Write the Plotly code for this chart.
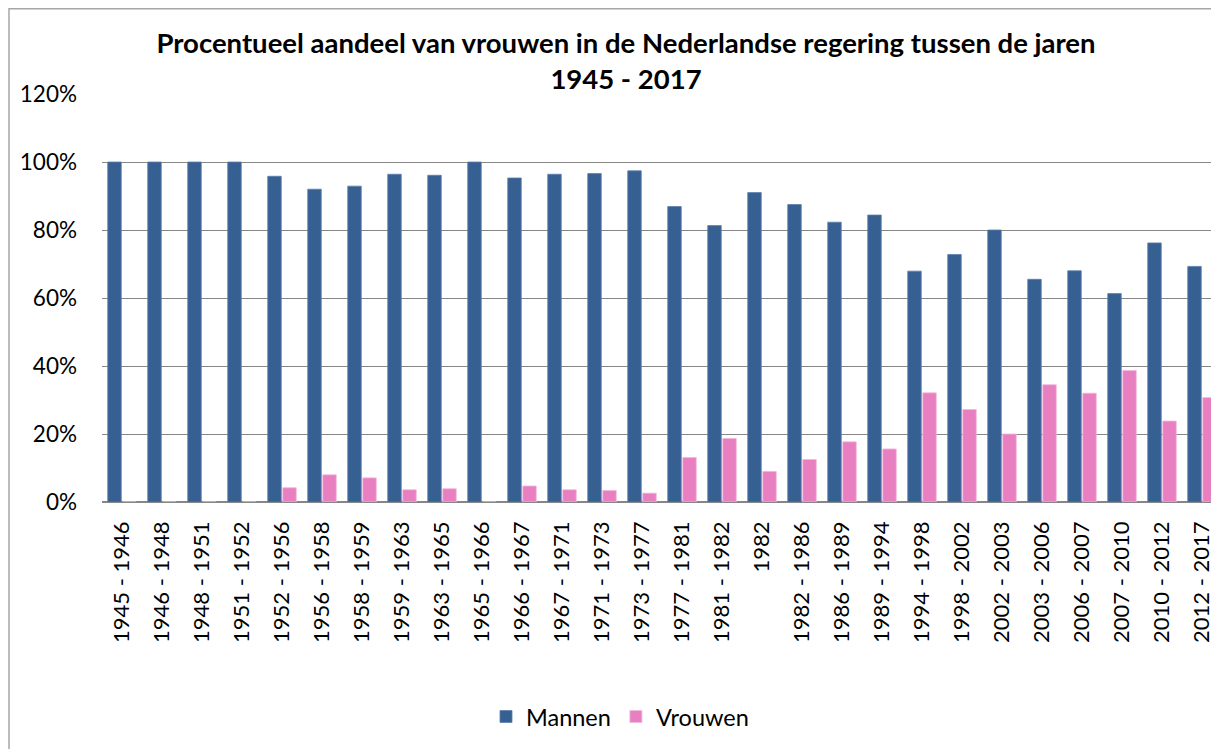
import plotly.graph_objects as go

categories = ["1945 - 1946", "1946 - 1948", "1948 - 1951", "1951 - 1952", "1952 - 1956",
              "1956 - 1958", "1958 - 1959", "1959 - 1963", "1963 - 1965", "1965 - 1966",
              "1966 - 1967", "1967 - 1971", "1971 - 1973", "1973 - 1977", "1977 - 1981",
              "1981 - 1982", "1982", "1982 - 1986", "1986 - 1989", "1989 - 1994",
              "1994 - 1998", "1998 - 2002", "2002 - 2003", "2003 - 2006", "2006 - 2007",
              "2007 - 2010", "2010 - 2012", "2012 - 2017"]
mannen = [100, 100, 100, 100, 95.8, 92.0, 92.9, 96.4, 96.1, 100, 95.3, 96.4, 96.6, 97.4,
          86.9, 81.3, 91.0, 87.5, 82.3, 84.4, 67.9, 72.8, 80.0, 65.5, 68.0, 61.3, 76.2, 69.3]
vrouwen = [0, 0, 0, 0, 4.2, 8.0, 7.1, 3.6, 3.9, 0, 4.7, 3.6, 3.4, 2.6,
           13.1, 18.7, 9.0, 12.5, 17.7, 15.6, 32.1, 27.2, 20.0, 34.5, 32.0, 38.7, 23.8, 30.7]
y_ticks = [0, 20, 40, 60, 80, 100, 120]
y_labels = ["0%", "20%", "40%", "60%", "80%", "100%", "120%"]

# page has an 8px body margin; work in page pixels and convert
O = 8
W, H = 1219 - O, 749 - O
L = 102 - O
T = 94.3 - O
B = H - (502.3 - O)
pw = W - L
ph = H - T - B
step = 40.0

fig = go.Figure()
fig.add_trace(go.Bar(name="Mannen", x=categories, y=mannen,
                     marker=dict(color="#376092", line=dict(color="#5b7fae", width=0.8))))
fig.add_trace(go.Bar(name="Vrouwen", x=categories, y=vrouwen,
                     marker=dict(color="#e77fc1", line=dict(color="#f3b8dc", width=0.8))))

def px_x(p):  # page x -> paper
    return (p - O - L) / pw

def px_y(p):  # page y -> paper
    return (H - B - (p - O)) / ph

fig.add_shape(type="rect", xref="paper", yref="paper",
              x0=px_x(9), x1=px_x(1219 + 30), y0=px_y(749 + 30), y1=px_y(9),
              line=dict(color="#a6a6a6", width=1.5), fillcolor="rgba(0,0,0,0)", layer="below")

fig.update_layout(
    width=W, height=H,
    margin=dict(l=L, r=0, t=T, b=B, pad=0),
    paper_bgcolor="white", plot_bgcolor="white",
    barmode="group", bargap=0.25, bargroupgap=0.1,
    font=dict(family="Lato, sans-serif", color="black", size=22),
    title=dict(text="<b>Procentueel aandeel van vrouwen in de Nederlandse regering tussen de jaren<br>1945 - 2017</b>",
               x=px_x(626), xref="paper", xanchor="center",
               y=1 - (53 - O) / H, yref="container", yanchor="middle",
               font=dict(family="Lato, sans-serif", size=27.5, color="black")),
    xaxis=dict(type="category", range=[-0.5, -0.5 + pw / step], tickangle=-90,
               showgrid=False, showline=False, ticks="", ticklabelstandoff=14,
               tickfont=dict(family="Lato, sans-serif", size=22, color="black")),
    yaxis=dict(range=[0, 120], tickvals=y_ticks, ticktext=y_labels,
               showgrid=True, gridcolor="#878787", gridwidth=1,
               zeroline=True, zerolinecolor="#878787", zerolinewidth=1.5,
               showline=False, ticks="", ticklabelstandoff=24,
               tickfont=dict(family="Lato, sans-serif", size=22.5, color="black")),
    legend=dict(orientation="h", x=px_x(620), xanchor="center", y=px_y(717), yanchor="middle",
                font=dict(family="Lato, sans-serif", size=23.5, color="black"),
                itemwidth=30, traceorder="normal", bgcolor="rgba(0,0,0,0)"),
    showlegend=True,
)

fig.write_html("out.html")
